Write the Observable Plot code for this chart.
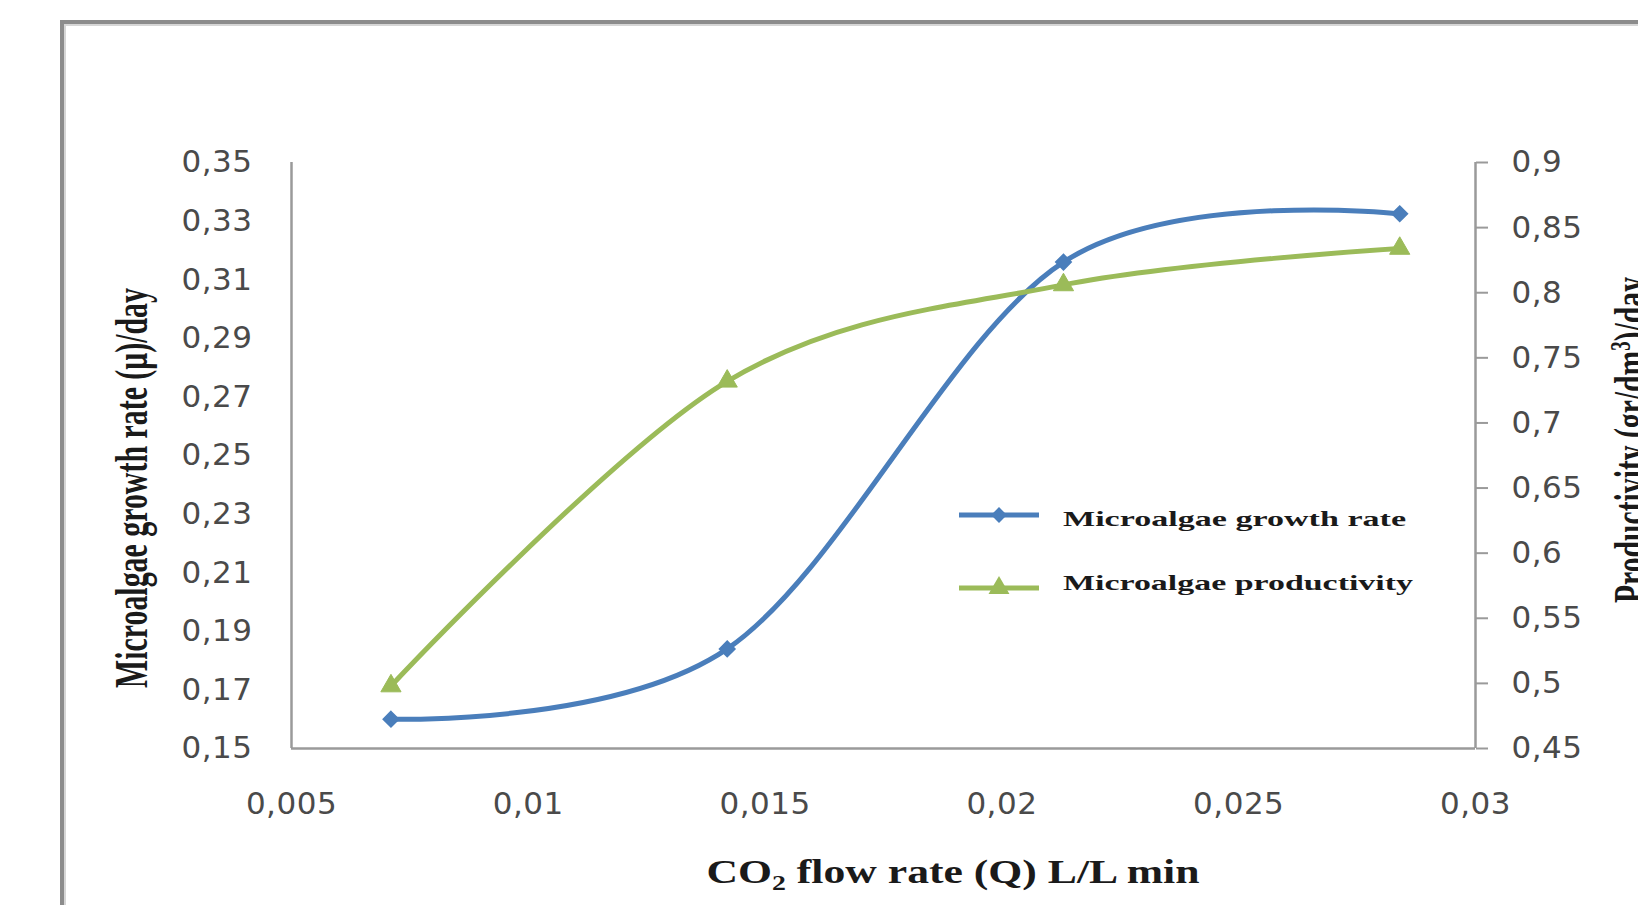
<!DOCTYPE html>
<html>
<head>
<meta charset="utf-8">
<script src="https://cdn.jsdelivr.net/npm/d3@7"></script>
<script src="https://cdn.jsdelivr.net/npm/@observablehq/plot@0.6"></script>
<style>
  html, body { margin: 0; padding: 0; background: #fff; }
  #wrap { position: relative; width: 1638px; height: 905px; overflow: hidden; background: #fff; }
  #frame { position: absolute; left: 60px; top: 20px; width: 1700px; height: 1000px;
           border-left: 4px solid #8c8c8c; border-top: 4px solid #8c8c8c;
           box-shadow: inset 2px 2px 0 #d6d6d6; }
  #chart { position: absolute; left: 0; top: 0; }
  #overlay { position: absolute; left: 0; top: 0; pointer-events: none; }
</style>
</head>
<body>
<div id="wrap">
  <div id="frame"></div>
  <div id="chart"></div>
  <svg id="overlay" width="1638" height="905"></svg>
</div>
<script>
// ---- data ----
const flowRate     = [0.0071, 0.0142, 0.0213, 0.0284];   // CO2 flow rate (Q) L/L min
const growthRate   = [0.160, 0.184, 0.316, 0.3325];      // Microalgae growth rate (µ)/day  (left axis)
const productivity = [0.498, 0.732, 0.806, 0.834];       // Productivity (gr/dm3)/day       (right axis)
const xTicks     = [0.005, 0.01, 0.015, 0.02, 0.025, 0.03];
const leftTicks  = [0.15, 0.17, 0.19, 0.21, 0.23, 0.25, 0.27, 0.29, 0.31, 0.33, 0.35];
const rightTicks = [0.45, 0.5, 0.55, 0.6, 0.65, 0.7, 0.75, 0.8, 0.85, 0.9];
const seriesNames = ["Microalgae growth rate", "Microalgae productivity"];

const blue = "#4a7ebb", green = "#9bbb59";
const leftDomain = [0.15, 0.35], rightDomain = [0.45, 0.9];
const toLeft = v => leftDomain[0] + (v - rightDomain[0]) * (leftDomain[1] - leftDomain[0]) / (rightDomain[1] - rightDomain[0]);
const fromLeft = y => rightDomain[0] + (y - leftDomain[0]) * (rightDomain[1] - rightDomain[0]) / (leftDomain[1] - leftDomain[0]);
const fmt = d => String(+(+d).toFixed(4)).replace(".", ",");

const growth = flowRate.map((x, i) => ({x, y: growthRate[i]}));
const prod = flowRate.map((x, i) => ({x, y: toLeft(productivity[i])}));

const axisColor = "#9a9a9a";
const labelColor = "#4a4a4a";
const plot = Plot.plot({
  width: 1638, height: 905,
  marginLeft: 291, marginRight: 163, marginTop: 162, marginBottom: 157,
  x: {domain: [0.005, 0.03]},
  y: {domain: leftDomain},
  style: {fontFamily: "DejaVu Sans", fontSize: "31px", background: "transparent", color: labelColor, letterSpacing: "0.5px"},
  marks: [
    Plot.ruleX([0.005], {stroke: axisColor, strokeWidth: 2.5}),
    Plot.ruleX([0.03], {stroke: axisColor, strokeWidth: 2.5}),
    Plot.ruleY([0.15], {stroke: axisColor, strokeWidth: 2.5}),
    Plot.axisX({ticks: xTicks, tickFormat: fmt, tickSize: 0, tickPadding: 43, label: null, fill: labelColor}),
    Plot.axisY({anchor: "left", ticks: leftTicks, tickFormat: fmt, tickSize: 0, tickPadding: 39, label: null, fill: labelColor}),
    Plot.axisY({anchor: "right", ticks: rightTicks.map(toLeft), tickFormat: d => fmt(+fromLeft(d).toFixed(2)),
                tickSize: 12, tickPadding: 24, label: null, stroke: axisColor, strokeWidth: 2, fill: labelColor}),
    Plot.line(growth, {x: "x", y: "y", curve: "cardinal", stroke: blue, strokeWidth: 5}),
    Plot.line(prod, {x: "x", y: "y", curve: "cardinal", stroke: green, strokeWidth: 5}),
    Plot.dot(growth, {x: "x", y: "y", symbol: "diamond2", r: 7, fill: blue, stroke: blue, strokeWidth: 1.5}),
    Plot.dot(prod, {x: "x", y: "y", symbol: "triangle", r: 7.5, fill: green, stroke: green, strokeWidth: 1})
  ]
});
document.getElementById("chart").appendChild(plot);

// ---- titles and legend ----
const ov = d3.select("#overlay");
const serif = "'Liberation Serif', 'Times New Roman', serif";

// x axis title
const xt = ov.append("text").attr("x", 953).attr("y", 883).attr("text-anchor", "middle")
  .attr("font-family", serif).attr("font-weight", "bold").attr("font-size", 33).attr("fill", "#1a1a1a")
  .attr("textLength", 493).attr("lengthAdjust", "spacingAndGlyphs");
xt.append("tspan").text("CO");
xt.append("tspan").attr("font-size", 21).attr("dy", 7).text("2");
xt.append("tspan").attr("dy", -7).text(" flow rate (Q) L/L min");

// left axis title
ov.append("text").attr("transform", "translate(147,488) rotate(-90)").attr("text-anchor", "middle")
  .attr("font-family", serif).attr("font-weight", "bold").attr("font-size", 47).attr("fill", "#1a1a1a")
  .attr("textLength", 400).attr("lengthAdjust", "spacingAndGlyphs")
  .text("Microalgae growth rate (\u03bc)/day");

// right axis title (cut at the right edge, as in the reference)
const rt = ov.append("text").attr("transform", "translate(1646,440) rotate(-90)").attr("text-anchor", "middle")
  .attr("font-family", serif).attr("font-weight", "bold").attr("font-size", 47).attr("fill", "#1a1a1a")
  .attr("textLength", 326).attr("lengthAdjust", "spacingAndGlyphs");
rt.append("tspan").text("Productivity (gr/dm");
rt.append("tspan").attr("font-size", 30).attr("dy", -16).text("3");
rt.append("tspan").attr("dy", 16).text(")/day");

// legend
const legend = [
  {name: seriesNames[0], color: blue, symbol: d3.symbolDiamond2, size: 160, y: 515, ty: 526, len: 343},
  {name: seriesNames[1], color: green, symbol: d3.symbolTriangle, size: 190, y: 588, ty: 590, len: 350}
];
for (const l of legend) {
  ov.append("line").attr("x1", 959).attr("x2", 1039).attr("y1", l.y).attr("y2", l.y)
    .attr("stroke", l.color).attr("stroke-width", 5);
  ov.append("path").attr("d", d3.symbol(l.symbol, l.size)()).attr("transform", `translate(999,${l.y})`)
    .attr("fill", l.color);
  ov.append("text").attr("x", 1063).attr("y", l.ty)
    .attr("font-family", serif).attr("font-weight", "bold").attr("font-size", 22).attr("fill", "#1a1a1a")
    .attr("textLength", l.len).attr("lengthAdjust", "spacingAndGlyphs").text(l.name);
}
</script>
</body>
</html>
